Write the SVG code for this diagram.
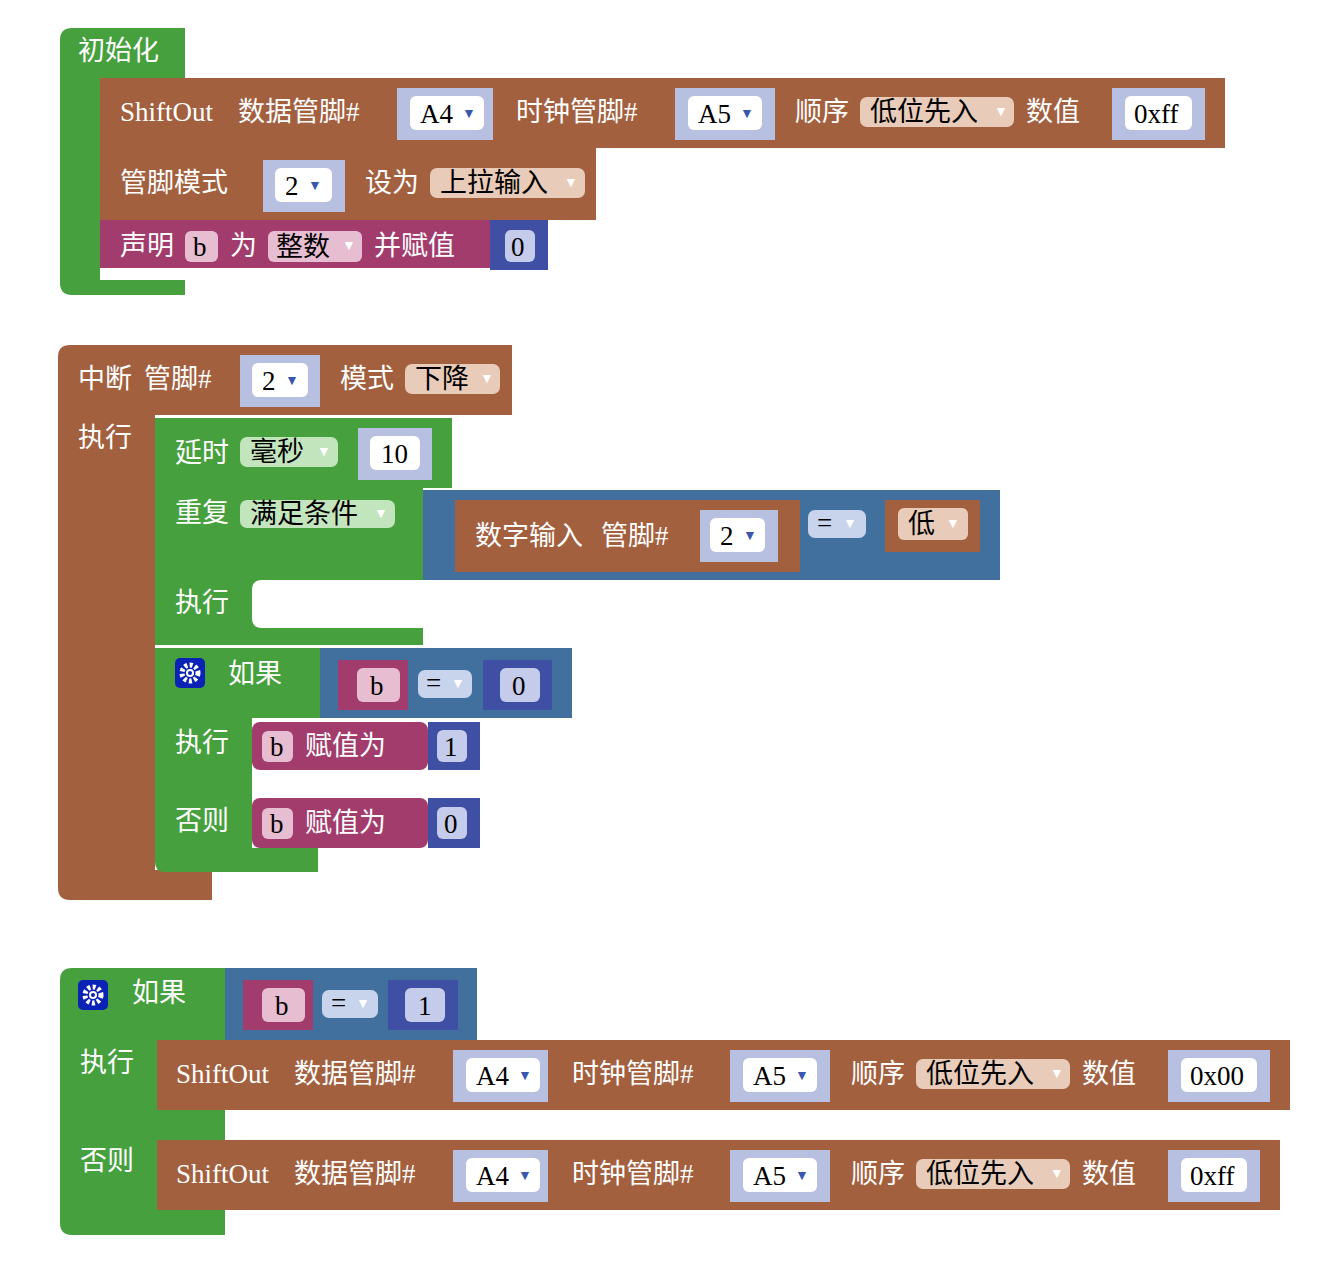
<svg xmlns="http://www.w3.org/2000/svg" width="1324" height="1269" viewBox="0 0 1324 1269">
<style>
.g{fill:#45A03D}.br{fill:#A3603F}.mg{fill:#A23C6D}.ind{fill:#3F4FA3}.sb{fill:#41709F}.lav{fill:#B8C0E2}
.wf{fill:#FFFFFF}.tf{fill:#E8CBB8}.pf{fill:#E7BDD1}.gf{fill:#C3E5BD}.bf{fill:#C8D3EC}.if{fill:#C5CBEA}
text{font-family:"Liberation Serif","Noto Sans CJK SC",serif;font-size:27px}
.w{fill:#FFFFFF}.k{fill:#000000}
.ar{font-size:14px}
.aw{fill:#FFFFFF}
.ab{fill:#3A57B0}
</style>
<rect width="1324" height="1269" fill="#FFFFFF"/>
<g id="connectors"/>
<g id="init">
<path class="g" d="M72 28H185V78H100V280H185V295H72Q60 295 60 283V40Q60 28 72 28Z"/>
<text x="78" y="60" class="w">初始化</text>
</g>
<g id="shiftout1">
<rect class="br" x="100" y="78" width="1125" height="70"/>
<text x="120" y="121" class="w">ShiftOut</text><text x="238" y="121" class="w">数据管脚#</text>
<rect class="lav" x="397" y="88" width="96" height="52"/><rect class="wf" x="410" y="96" width="74" height="34" rx="6"/>
<text x="420" y="123" class="k">A4</text><text x="462" y="118" class="ar ab">▼</text>
<text x="516" y="121" class="w">时钟管脚#</text>
<rect class="lav" x="675" y="88" width="100" height="52"/><rect class="wf" x="688" y="96" width="74" height="34" rx="6"/>
<text x="698" y="123" class="k">A5</text><text x="740" y="118" class="ar ab">▼</text>
<text x="795" y="121" class="w">顺序</text>
<rect class="tf" x="860" y="97" width="154" height="30" rx="7"/>
<text x="870" y="121" class="k">低位先入</text><text x="994" y="116" class="ar aw">▼</text>
<text x="1026" y="121" class="w">数值</text>
<rect class="lav" x="1112" y="88" width="93" height="52"/><rect class="wf" x="1125" y="96" width="67" height="34" rx="6"/>
<text x="1134" y="123" class="k">0xff</text>
</g>
<g id="pinmode">
<rect class="br" x="100" y="148" width="496" height="72"/>
<text x="120" y="192" class="w">管脚模式</text>
<rect class="lav" x="263" y="160" width="82" height="52"/><rect class="wf" x="275" y="168" width="57" height="34" rx="6"/>
<text x="285" y="195" class="k">2</text><text x="308" y="190" class="ar ab">▼</text>
<text x="365" y="192" class="w">设为</text>
<rect class="tf" x="430" y="168" width="155" height="30" rx="7"/>
<text x="440" y="192" class="k">上拉输入</text><text x="564" y="187" class="ar aw">▼</text>
</g>
<g id="declare">
<rect class="mg" x="100" y="220" width="393" height="48"/>
<text x="120" y="255" class="w">声明</text>
<rect class="pf" x="185" y="231" width="33" height="31" rx="6"/><text x="193" y="256" class="k">b</text>
<text x="230" y="255" class="w">为</text>
<rect class="pf" x="268" y="231" width="94" height="31" rx="6"/><text x="276" y="256" class="k">整数</text><text x="342" y="250" class="ar aw">▼</text>
<text x="374" y="255" class="w">并赋值</text>
<rect class="ind" x="490" y="220" width="58" height="50"/><rect class="if" x="505" y="230" width="30" height="32" rx="6"/>
<text x="511" y="256" class="k">0</text>
</g>
<g id="interrupt">
<path class="br" d="M70 345H512V415H155V870H212V900H70Q58 900 58 888V357Q58 345 70 345Z"/>
<text x="78" y="388" class="w">中断</text><text x="144" y="388" class="w">管脚#</text>
<rect class="lav" x="240" y="355" width="80" height="52"/><rect class="wf" x="252" y="363" width="56" height="34" rx="6"/>
<text x="262" y="390" class="k">2</text><text x="285" y="385" class="ar ab">▼</text>
<text x="340" y="388" class="w">模式</text>
<rect class="tf" x="405" y="364" width="95" height="30" rx="7"/>
<text x="415" y="388" class="k">下降</text><text x="480" y="383" class="ar aw">▼</text>
<text x="78" y="447" class="w">执行</text>
</g>
<g id="delay">
<rect class="g" x="155" y="418" width="297" height="70"/>
<text x="175" y="462" class="w">延时</text>
<rect class="gf" x="240" y="437" width="98" height="30" rx="7"/><text x="250" y="461" class="k">毫秒</text><text x="317" y="456" class="ar aw">▼</text>
<rect class="lav" x="358" y="428" width="74" height="52"/><rect class="wf" x="370" y="436" width="50" height="34" rx="6"/>
<text x="381" y="463" class="k">10</text>
</g>
<g id="repeat">
<path class="g" d="M155 488H423V580H262Q252 580 252 590V618Q252 628 262 628H423V645H155Z"/>
<text x="175" y="522" class="w">重复</text>
<rect class="gf" x="240" y="500" width="155" height="28" rx="7"/><text x="250" y="523" class="k">满足条件</text><text x="374" y="518" class="ar aw">▼</text>
<text x="175" y="612" class="w">执行</text>
<rect class="sb" x="423" y="490" width="577" height="90"/>
<rect class="br" x="455" y="500" width="345" height="72"/>
<text x="475" y="545" class="w">数字输入</text><text x="601" y="545" class="w">管脚#</text>
<rect class="lav" x="700" y="510" width="78" height="52"/><rect class="wf" x="710" y="518" width="55" height="34" rx="6"/>
<text x="720" y="545" class="k">2</text><text x="743" y="540" class="ar ab">▼</text>
<rect class="bf" x="808" y="510" width="58" height="28" rx="7"/><text x="817" y="532" class="k">=</text><text x="843" y="528" class="ar aw">▼</text>
<rect class="br" x="885" y="500" width="95" height="52"/>
<rect class="tf" x="898" y="508" width="70" height="32" rx="6"/><text x="908" y="533" class="k">低</text><text x="946" y="528" class="ar aw">▼</text>
</g>
<g id="if1">
<path class="g" d="M155 648H320V718H252V848H318V872H165Q155 872 155 862Z"/>
<rect x="175" y="658" width="30" height="30" rx="5" fill="#0A22B5"/>
<circle cx="190" cy="673" r="8" fill="none" stroke="#FFFFFF" stroke-width="5" stroke-dasharray="3 2.3"/>
<circle cx="190" cy="673" r="4" fill="#FFFFFF"/><circle cx="190" cy="673" r="2" fill="#0A22B5"/>
<text x="228" y="683" class="w">如果</text>
<rect class="sb" x="320" y="648" width="252" height="70"/>
<rect class="mg" x="338" y="660" width="70" height="50"/><rect class="pf" x="357" y="668" width="43" height="34" rx="6"/><text x="370" y="695" class="k">b</text>
<rect class="bf" x="418" y="670" width="54" height="28" rx="7"/><text x="426" y="692" class="k">=</text><text x="451" y="688" class="ar aw">▼</text>
<rect class="ind" x="483" y="660" width="69" height="50"/><rect class="if" x="500" y="668" width="40" height="34" rx="6"/><text x="512" y="695" class="k">0</text>
<text x="175" y="752" class="w">执行</text>
<rect class="mg" x="252" y="722" width="176" height="48" rx="8"/>
<rect class="pf" x="262" y="731" width="31" height="31" rx="6"/><text x="270" y="756" class="k">b</text>
<text x="305" y="755" class="w">赋值为</text>
<rect class="ind" x="428" y="722" width="52" height="48"/><rect class="if" x="437" y="730" width="30" height="32" rx="6"/><text x="444" y="756" class="k">1</text>
<text x="175" y="830" class="w">否则</text>
<rect class="mg" x="252" y="798" width="176" height="50" rx="8"/>
<rect class="pf" x="262" y="808" width="31" height="31" rx="6"/><text x="270" y="833" class="k">b</text>
<text x="305" y="832" class="w">赋值为</text>
<rect class="ind" x="428" y="798" width="52" height="50"/><rect class="if" x="437" y="807" width="30" height="32" rx="6"/><text x="444" y="833" class="k">0</text>
</g>
<g id="if2">
<path class="g" d="M72 968H225V1040H157V1110H225V1140H157V1210H225V1235H72Q60 1235 60 1223V980Q60 968 72 968Z"/>
<rect x="78" y="980" width="30" height="30" rx="5" fill="#0A22B5"/>
<circle cx="93" cy="995" r="8" fill="none" stroke="#FFFFFF" stroke-width="5" stroke-dasharray="3 2.3"/>
<circle cx="93" cy="995" r="4" fill="#FFFFFF"/><circle cx="93" cy="995" r="2" fill="#0A22B5"/>
<text x="132" y="1002" class="w">如果</text>
<rect class="sb" x="225" y="968" width="252" height="72"/>
<rect class="mg" x="243" y="980" width="70" height="50"/><rect class="pf" x="262" y="988" width="43" height="34" rx="6"/><text x="275" y="1015" class="k">b</text>
<rect class="bf" x="322" y="990" width="56" height="28" rx="7"/><text x="331" y="1012" class="k">=</text><text x="356" y="1008" class="ar aw">▼</text>
<rect class="ind" x="388" y="980" width="70" height="50"/><rect class="if" x="405" y="988" width="40" height="34" rx="6"/><text x="418" y="1015" class="k">1</text>
<text x="80" y="1072" class="w">执行</text>
<text x="80" y="1170" class="w">否则</text>
</g>
<g id="shiftout2">
<rect class="br" x="157" y="1040" width="1133" height="70"/>
<text x="176" y="1083" class="w">ShiftOut</text><text x="294" y="1083" class="w">数据管脚#</text>
<rect class="lav" x="453" y="1050" width="95" height="52"/><rect class="wf" x="466" y="1058" width="74" height="34" rx="6"/>
<text x="476" y="1085" class="k">A4</text><text x="518" y="1080" class="ar ab">▼</text>
<text x="572" y="1083" class="w">时钟管脚#</text>
<rect class="lav" x="730" y="1050" width="100" height="52"/><rect class="wf" x="743" y="1058" width="74" height="34" rx="6"/>
<text x="753" y="1085" class="k">A5</text><text x="795" y="1080" class="ar ab">▼</text>
<text x="851" y="1083" class="w">顺序</text>
<rect class="tf" x="916" y="1059" width="154" height="30" rx="7"/>
<text x="926" y="1083" class="k">低位先入</text><text x="1050" y="1078" class="ar aw">▼</text>
<text x="1082" y="1083" class="w">数值</text>
<rect class="lav" x="1168" y="1050" width="102" height="52"/><rect class="wf" x="1181" y="1058" width="76" height="34" rx="6"/>
<text x="1190" y="1085" class="k">0x00</text>
</g>
<g id="shiftout3">
<rect class="br" x="157" y="1140" width="1123" height="70"/>
<text x="176" y="1183" class="w">ShiftOut</text><text x="294" y="1183" class="w">数据管脚#</text>
<rect class="lav" x="453" y="1150" width="95" height="52"/><rect class="wf" x="466" y="1158" width="74" height="34" rx="6"/>
<text x="476" y="1185" class="k">A4</text><text x="518" y="1180" class="ar ab">▼</text>
<text x="572" y="1183" class="w">时钟管脚#</text>
<rect class="lav" x="730" y="1150" width="100" height="52"/><rect class="wf" x="743" y="1158" width="74" height="34" rx="6"/>
<text x="753" y="1185" class="k">A5</text><text x="795" y="1180" class="ar ab">▼</text>
<text x="851" y="1183" class="w">顺序</text>
<rect class="tf" x="916" y="1159" width="154" height="30" rx="7"/>
<text x="926" y="1183" class="k">低位先入</text><text x="1050" y="1178" class="ar aw">▼</text>
<text x="1082" y="1183" class="w">数值</text>
<rect class="lav" x="1168" y="1150" width="92" height="52"/><rect class="wf" x="1181" y="1158" width="66" height="34" rx="6"/>
<text x="1190" y="1185" class="k">0xff</text>
</g>
</svg>
